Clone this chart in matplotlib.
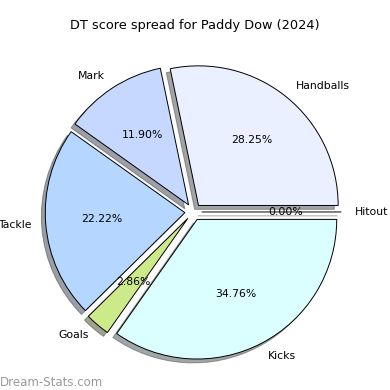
import matplotlib
matplotlib.use("Agg")
import matplotlib.pyplot as plt

labels = ["Hitout", "Handballs", "Mark", "Tackle", "Goals", "Kicks"]
values = [0.0, 28.25, 11.90, 22.22, 2.86, 34.76]
colors = ["#ffffff", "#eaf0ff", "#c6d8ff", "#b4d6ff", "#cdea8a", "#dbffff"]
explode = [0.06] * len(values)

fig = plt.figure(figsize=(3.9, 3.9), dpi=100)
ax = fig.add_axes([0.048, 0.009, 0.895, 0.895])
ax.pie(values, labels=labels, colors=colors, explode=explode, shadow=True,
       autopct="%1.2f%%", startangle=0,
       wedgeprops={"edgecolor": "black", "linewidth": 0.7},
       textprops={"fontsize": 7.8})
ax.set_aspect("equal")
fig.text(0.5, 0.935, "DT score spread for Paddy Dow (2024)", fontsize=9.3,
         ha="center", va="center")
fig.text(0.0, 0.01, "Dream-Stats.com", fontsize=8.5, color="gray", alpha=0.8)
fig.savefig("out.png")
